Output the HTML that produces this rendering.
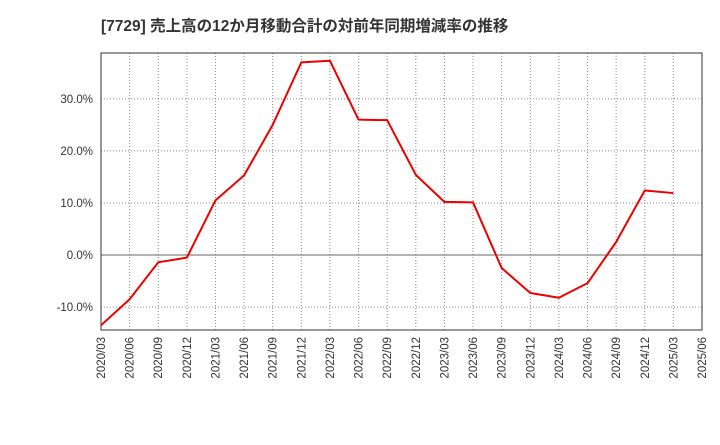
<!DOCTYPE html>
<html><head><meta charset="utf-8">
<style>
body{margin:0;background:#fff;width:720px;height:440px;overflow:hidden;font-family:"Liberation Sans","Noto Sans CJK JP",sans-serif;}
</style></head>
<body>
<svg id="chart" width="720" height="440" xmlns="http://www.w3.org/2000/svg">
<text x="101" y="31" font-size="15.5" font-weight="bold" fill="#333" font-family="Liberation Sans, Noto Sans CJK JP, sans-serif">[7729]  売上高の12か月移動合計の対前年同期増減率の推移</text>
<g id="grid"></g>
<g id="axes"></g>
<g id="series"></g>
</svg>
<script>
const categories=["2020/03","2020/06","2020/09","2020/12","2021/03","2021/06","2021/09","2021/12","2022/03","2022/06","2022/09","2022/12","2023/03","2023/06","2023/09","2023/12","2024/03","2024/06","2024/09","2024/12","2025/03","2025/06"];
const values=[-13.5,-8.5,-1.4,-0.5,10.5,15.3,25,37,37.3,26,25.9,15.4,10.2,10.1,-2.5,-7.3,-8.2,-5.4,2.5,12.4,11.9];
const yTicks=[-10,0,10,20,30];
const yTickLabels=["-10.0%","0.0%","10.0%","20.0%","30.0%"];
const L=101,R=702,T=53,B=330,yMin=-14.4,yMax=38.8;
const ns="http://www.w3.org/2000/svg";
const xs=i=>L+(R-L)*i/(categories.length-1);
const ys=v=>B-(v-yMin)/(yMax-yMin)*(B-T);
function mk(tag,attrs,parent){const e=document.createElementNS(ns,tag);for(const k in attrs)e.setAttribute(k,attrs[k]);parent.appendChild(e);return e;}
const grid=document.getElementById('grid'),axes=document.getElementById('axes'),series=document.getElementById('series');
categories.forEach((c,i)=>{
  const x=xs(i);
  if(i>0&&i<categories.length-1){const g=mk('line',{x1:x,x2:x,y1:T,y2:B,stroke:'#888','stroke-dasharray':'1,2','stroke-width':1},grid);
  
  }
  const t=mk('text',{x:0,y:0,'font-size':11.5,fill:'#333','text-anchor':'end',transform:`translate(${x+4},${B+7}) rotate(-90)`},axes);
  t.textContent=c;
  
  
});
yTicks.forEach((v,i)=>{
  const y=ys(v);
  const g=mk('line',{x1:L,x2:R,y1:y,y2:y,stroke:v===0?'#666':'#888','stroke-dasharray':v===0?'none':'1,2','stroke-width':1},grid);
  
  
  const t=mk('text',{x:L-8,y:y+4,'font-size':11.5,fill:'#333','text-anchor':'end'},axes);
  t.textContent=yTickLabels[i];
  
  
});
const frame=mk('rect',{x:L,y:T,width:R-L,height:B-T,fill:'none',stroke:'#333','stroke-width':1},axes);


const line=mk('polyline',{points:values.map((v,i)=>xs(i)+','+ys(v)).join(' '),fill:'none',stroke:'#e00','stroke-width':2,'stroke-linejoin':'round'},series);


</script>
</body></html>
